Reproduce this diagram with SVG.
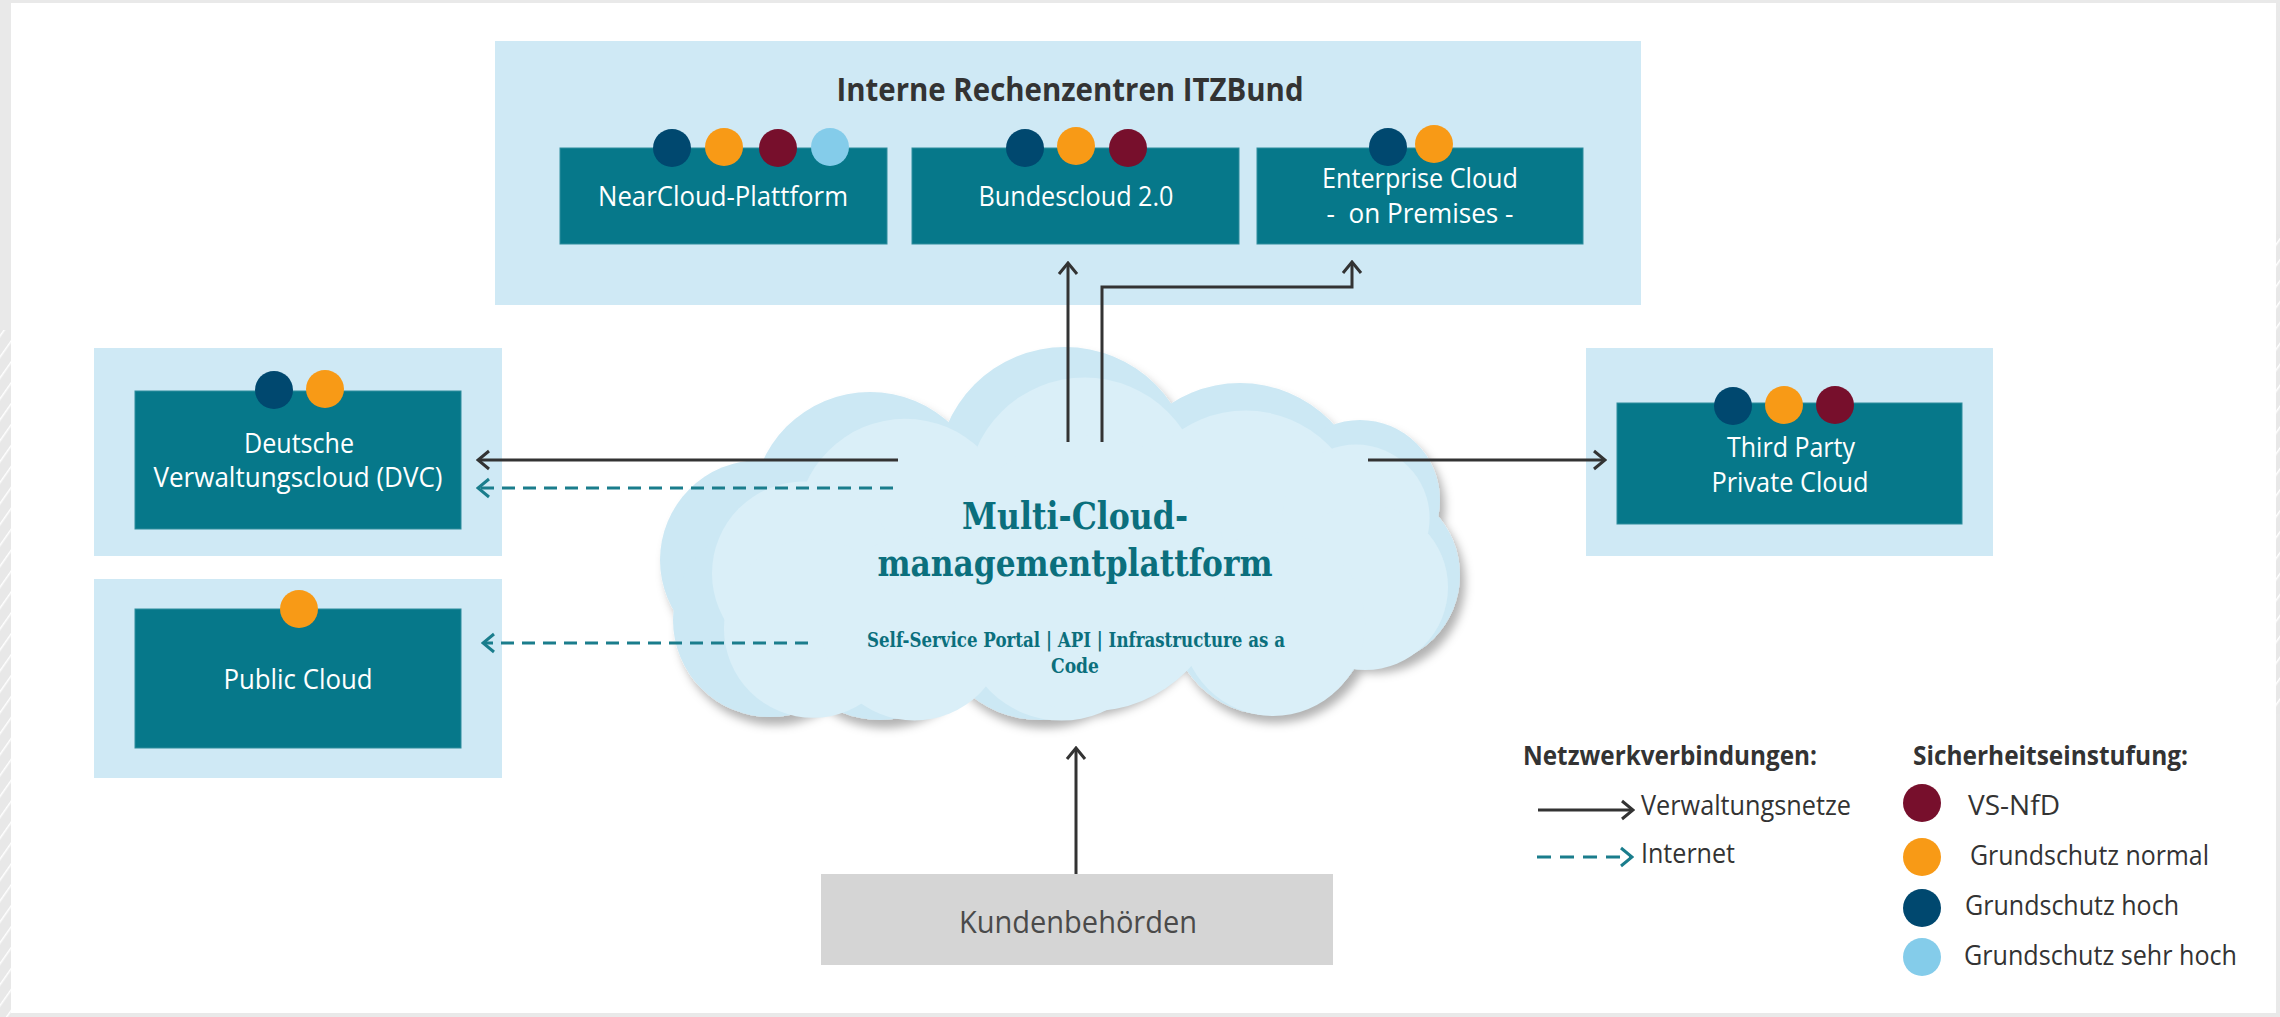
<svg xmlns="http://www.w3.org/2000/svg" width="2280" height="1017" viewBox="0 0 2280 1017">
<defs>
<style>
.outer{fill:#cfe9f5}
.box{fill:#06788a;stroke:#2f8d9d;stroke-width:1}
.lbl{font-family:"Open Sans","Noto Sans",sans-serif;fill:#ffffff;font-size:27px;text-anchor:middle}
.ttl{font-family:"Open Sans","Noto Sans",sans-serif;font-weight:700;fill:#333333;font-size:32px;text-anchor:middle}
.cl1{font-family:"DejaVu Serif","Liberation Serif",serif;font-weight:700;fill:#0b6f7d;font-size:38px;text-anchor:middle}
.cl2{font-family:"DejaVu Serif","Liberation Serif",serif;font-weight:700;fill:#0b6f7d;font-size:21px;text-anchor:middle}
.leg{font-family:"Open Sans","Noto Sans",sans-serif;fill:#333333;font-size:27px}
.legh{font-family:"Open Sans","Noto Sans",sans-serif;font-weight:700;fill:#333333;font-size:27px}
.solid{fill:none;stroke:#333333;stroke-width:3}
.dash{fill:none;stroke:#1a7d8c;stroke-width:3;stroke-dasharray:13 8}
.navy{fill:#00486f}.orange{fill:#f89a16}.maroon{fill:#770f2c}.sky{fill:#84ccea}
.c1{fill:#cce8f4}.c2{fill:#daeff8}
</style>
<marker id="ah" viewBox="0 0 14 22" refX="12" refY="11" markerWidth="14" markerHeight="22" markerUnits="userSpaceOnUse" orient="auto">
<path d="M1,2 L12,11 L1,20" fill="none" stroke="#333333" stroke-width="3"/>
</marker>
<marker id="ahd" viewBox="0 0 14 22" refX="12" refY="11" markerWidth="14" markerHeight="22" markerUnits="userSpaceOnUse" orient="auto">
<path d="M1,2 L12,11 L1,20" fill="none" stroke="#1a7d8c" stroke-width="3"/>
</marker>
<filter id="sh" x="-10%" y="-10%" width="130%" height="140%">
<feDropShadow dx="5" dy="8" stdDeviation="5" flood-color="#000000" flood-opacity="0.3"/>
</filter>
<pattern id="hatch" width="12" height="12" patternUnits="userSpaceOnUse" patternTransform="rotate(35)">
<rect width="12" height="12" fill="#e8e8e8"/>
<line x1="0" y1="0" x2="0" y2="12" stroke="#ffffff" stroke-width="3"/>
</pattern>
<g id="cloudshape">
<circle cx="1065" cy="475" r="128"/>
<circle cx="870" cy="510" r="118"/>
<circle cx="760" cy="560" r="100"/>
<circle cx="770" cy="620" r="97"/>
<circle cx="880" cy="620" r="100"/>
<circle cx="1040" cy="610" r="110"/>
<circle cx="1240" cy="510" r="127"/>
<circle cx="1360" cy="500" r="80"/>
<circle cx="1370" cy="575" r="90"/>
<circle cx="1270" cy="615" r="100"/>
<circle cx="1070" cy="560" r="150"/>
</g>
</defs>

<!-- background -->
<rect x="0" y="0" width="2280" height="1017" fill="#e9e9e9"/>
<rect x="0" y="330" width="11" height="687" fill="url(#hatch)"/>
<rect x="2276" y="234" width="4" height="480" fill="url(#hatch)"/>
<rect x="11" y="3" width="2265" height="1010" fill="#ffffff"/>

<!-- top container -->
<g id="itzbund">
<rect class="outer" x="495" y="41" width="1146" height="264"/>
<text class="ttl" x="1070" y="101" textLength="467" lengthAdjust="spacingAndGlyphs">Interne Rechenzentren ITZBund</text>
</g>

<g id="nearcloud">
<rect class="box" x="560" y="148" width="327" height="96"/>
<circle class="navy" cx="672" cy="148" r="19"/>
<circle class="orange" cx="724" cy="147" r="19"/>
<circle class="maroon" cx="778" cy="148" r="19"/>
<circle class="sky" cx="830" cy="147" r="19"/>
<text class="lbl" x="723" y="206" textLength="250" lengthAdjust="spacingAndGlyphs">NearCloud-Plattform</text>
</g>

<g id="bundescloud">
<rect class="box" x="912" y="148" width="327" height="96"/>
<circle class="navy" cx="1025" cy="148" r="19"/>
<circle class="orange" cx="1076" cy="146" r="19"/>
<circle class="maroon" cx="1128" cy="148" r="19"/>
<text class="lbl" x="1076" y="206" textLength="195" lengthAdjust="spacingAndGlyphs">Bundescloud 2.0</text>
</g>

<g id="enterprise">
<rect class="box" x="1257" y="148" width="326" height="96"/>
<circle class="navy" cx="1388" cy="147" r="19"/>
<circle class="orange" cx="1434" cy="144" r="19"/>
<text class="lbl" x="1420" y="188" textLength="196" lengthAdjust="spacingAndGlyphs">Enterprise Cloud</text>
<text class="lbl" x="1420" y="223" textLength="187" lengthAdjust="spacingAndGlyphs" xml:space="preserve">-  on Premises -</text>
</g>

<g id="dvc">
<rect class="outer" x="94" y="348" width="408" height="208"/>
<rect class="box" x="135" y="391" width="326" height="138"/>
<circle class="navy" cx="274" cy="390" r="19"/>
<circle class="orange" cx="325" cy="389" r="19"/>
<text class="lbl" x="299" y="453" textLength="110" lengthAdjust="spacingAndGlyphs">Deutsche</text>
<text class="lbl" x="298" y="487" textLength="289" lengthAdjust="spacingAndGlyphs">Verwaltungscloud (DVC)</text>
</g>

<g id="publiccloud">
<rect class="outer" x="94" y="579" width="408" height="199"/>
<rect class="box" x="135" y="609" width="326" height="139"/>
<circle class="orange" cx="299" cy="609" r="19"/>
<text class="lbl" x="298" y="689" textLength="149" lengthAdjust="spacingAndGlyphs">Public Cloud</text>
</g>

<g id="thirdparty">
<rect class="outer" x="1586" y="348" width="407" height="208"/>
<rect class="box" x="1617" y="403" width="345" height="121"/>
<circle class="navy" cx="1733" cy="406" r="19"/>
<circle class="orange" cx="1784" cy="405" r="19"/>
<circle class="maroon" cx="1835" cy="405" r="19"/>
<text class="lbl" x="1791" y="457" textLength="128" lengthAdjust="spacingAndGlyphs">Third Party</text>
<text class="lbl" x="1790" y="492" textLength="157" lengthAdjust="spacingAndGlyphs">Private Cloud</text>
</g>

<g id="mcmp">
<g class="c1" filter="url(#sh)"><use href="#cloudshape"/></g>
<g class="c2" transform="translate(1080 555) scale(0.92) translate(-1060 -540)"><use href="#cloudshape"/></g>
<text class="cl1" x="1075" y="529" textLength="226" lengthAdjust="spacingAndGlyphs">Multi-Cloud-</text>
<text class="cl1" x="1075" y="576" textLength="395" lengthAdjust="spacingAndGlyphs">managementplattform</text>
<text class="cl2" x="1076" y="647" textLength="418" lengthAdjust="spacingAndGlyphs">Self-Service Portal | API | Infrastructure as a</text>
<text class="cl2" x="1075" y="673" textLength="48" lengthAdjust="spacingAndGlyphs">Code</text>
</g>

<g id="kunden">
<rect x="821" y="874" width="512" height="91" fill="#d5d5d5"/>
<text x="1078" y="933" font-family="Open Sans, Noto Sans, sans-serif" font-size="31" fill="#4a4a4a" text-anchor="middle" textLength="238" lengthAdjust="spacingAndGlyphs">Kundenbehörden</text>
</g>

<g id="connectors">
<path class="solid" d="M898,460 H478" marker-end="url(#ah)"/>
<path class="dash" d="M893,488 H478" marker-end="url(#ahd)"/>
<path class="dash" d="M808,643 H483" marker-end="url(#ahd)"/>
<path class="solid" d="M1068,442 V263" marker-end="url(#ah)"/>
<path class="solid" d="M1102,442 V287 H1352 V262" marker-end="url(#ah)"/>
<path class="solid" d="M1368,460 H1605" marker-end="url(#ah)"/>
<path class="solid" d="M1076,874 V748" marker-end="url(#ah)"/>
</g>

<g id="legend">
<text class="legh" x="1523" y="765" textLength="294" lengthAdjust="spacingAndGlyphs">Netzwerkverbindungen:</text>
<text class="legh" x="1913" y="765" textLength="275" lengthAdjust="spacingAndGlyphs">Sicherheitseinstufung:</text>
<path class="solid" d="M1538,810 H1633" marker-end="url(#ah)"/>
<text class="leg" x="1641" y="815" textLength="210" lengthAdjust="spacingAndGlyphs">Verwaltungsnetze</text>
<path class="dash" d="M1537,857 H1632" style="stroke-dasharray:14 9" marker-end="url(#ahd)"/>
<text class="leg" x="1641" y="863" textLength="94" lengthAdjust="spacingAndGlyphs">Internet</text>
<circle class="maroon" cx="1922" cy="803" r="19"/>
<text class="leg" x="1968" y="815" textLength="92" lengthAdjust="spacingAndGlyphs">VS-NfD</text>
<circle class="orange" cx="1922" cy="857" r="19"/>
<text class="leg" x="1970" y="865" textLength="239" lengthAdjust="spacingAndGlyphs">Grundschutz normal</text>
<circle class="navy" cx="1922" cy="908" r="19"/>
<text class="leg" x="1965" y="915" textLength="214" lengthAdjust="spacingAndGlyphs">Grundschutz hoch</text>
<circle class="sky" cx="1922" cy="957" r="19"/>
<text class="leg" x="1964" y="965" textLength="273" lengthAdjust="spacingAndGlyphs">Grundschutz sehr hoch</text>
</g>
</svg>
